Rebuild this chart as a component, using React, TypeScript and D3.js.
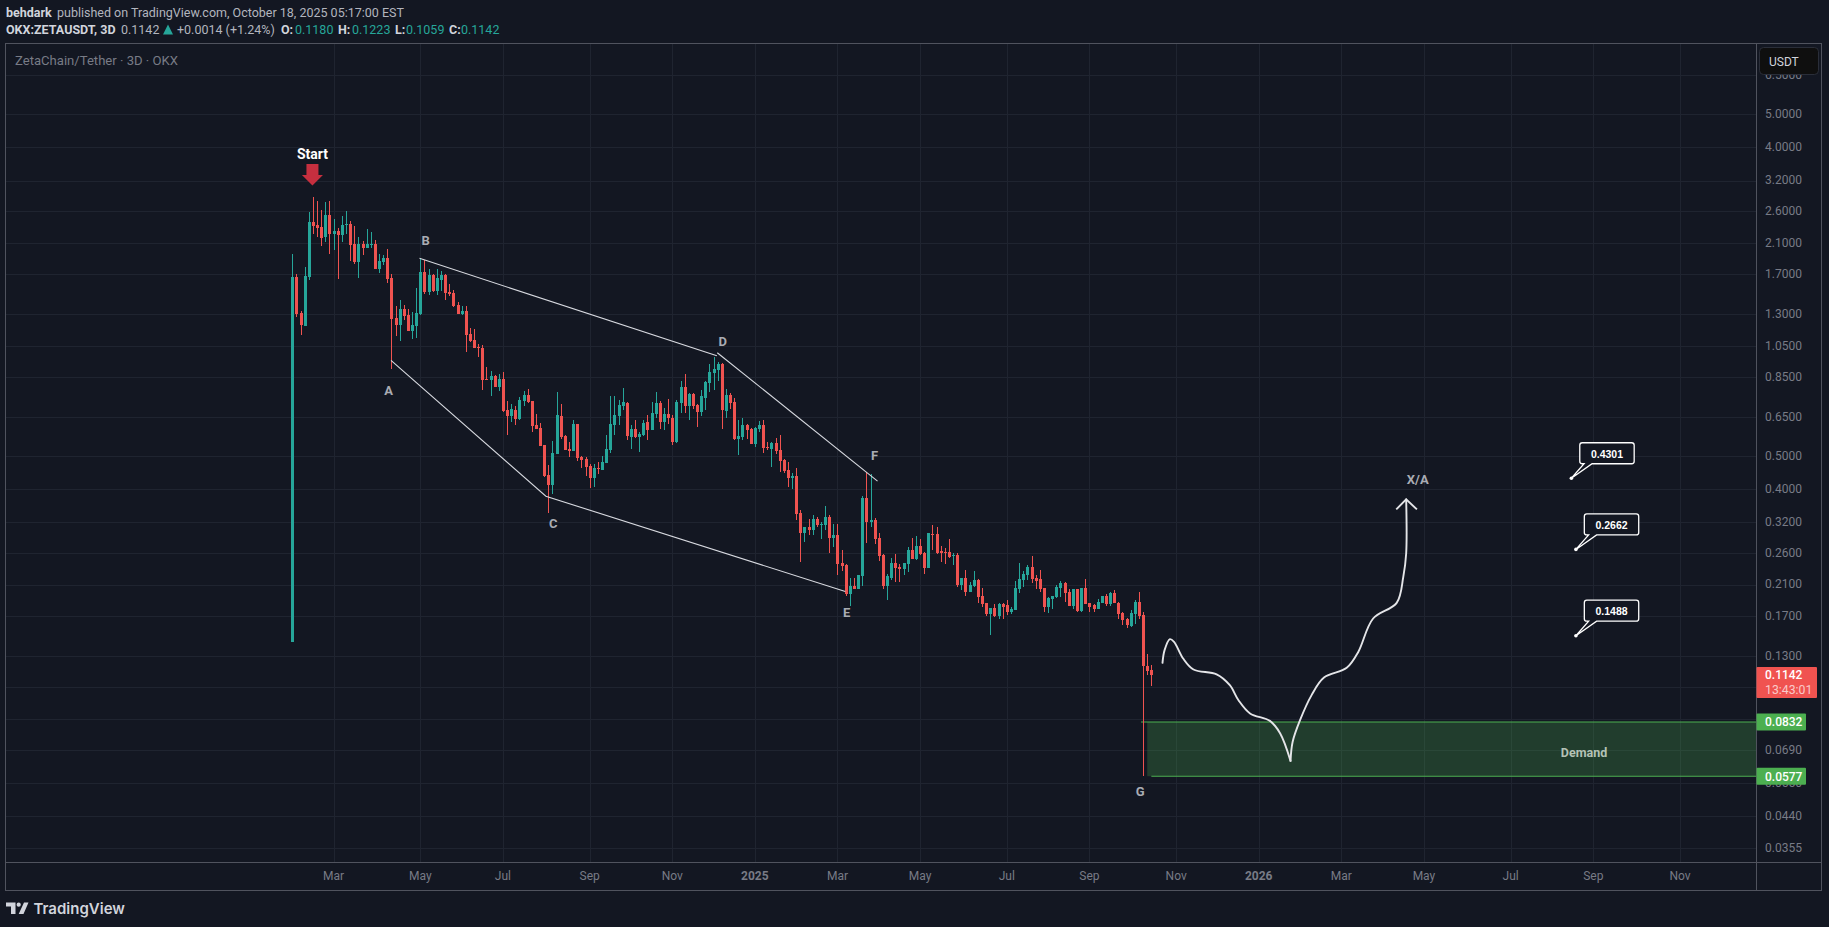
import { useEffect, useRef } from "react";
import * as d3 from "d3";

// candles, 3D bars, oldest first
const opens = [
  0.1425, 1.666, 1.31, 1.2, 1.67, 2.42, 2.37, 2.34, 2.18, 2.53,
  2.23, 2.28, 2.22, 2.37, 2.39, 2.09, 1.847, 2.09, 2.03, 2.07,
  2.09, 1.762, 1.847, 1.9, 1.66, 1.266, 1.208, 1.345, 1.292, 1.16,
  1.2, 1.3, 1.727, 1.51, 1.69, 1.52, 1.636, 1.69, 1.51, 1.5,
  1.382, 1.3, 1.327, 1.137, 1.092, 1.041, 1.034, 0.84, 0.834, 0.856,
  0.795, 0.84, 0.681, 0.654, 0.681, 0.64, 0.723, 0.753, 0.723, 0.615,
  0.603, 0.538, 0.439, 0.41, 0.506, 0.654, 0.571, 0.524, 0.516, 0.62,
  0.496, 0.489, 0.467, 0.43, 0.46, 0.454, 0.476, 0.52, 0.615, 0.654,
  0.7, 0.713, 0.567, 0.599, 0.567, 0.575, 0.628, 0.595, 0.663, 0.713,
  0.628, 0.663, 0.645, 0.548, 0.713, 0.795, 0.7, 0.758, 0.704, 0.672,
  0.738, 0.817, 0.874, 0.892, 0.929, 0.676, 0.753, 0.718, 0.56, 0.567,
  0.615, 0.599, 0.541, 0.599, 0.615, 0.53, 0.524, 0.544, 0.52, 0.486,
  0.454, 0.43, 0.436, 0.34, 0.298, 0.309, 0.303, 0.326, 0.315, 0.313,
  0.331, 0.287, 0.293, 0.243, 0.24, 0.197, 0.208, 0.204, 0.222, 0.376,
  0.32, 0.324, 0.287, 0.256, 0.208, 0.22, 0.243, 0.236, 0.233, 0.241,
  0.266, 0.249, 0.273, 0.26, 0.235, 0.296, 0.296, 0.263, 0.261, 0.261,
  0.255, 0.256, 0.21, 0.219, 0.2, 0.208, 0.216, 0.194, 0.185, 0.172,
  0.179, 0.17, 0.184, 0.183, 0.174, 0.177, 0.204, 0.216, 0.224, 0.236,
  0.219, 0.218, 0.205, 0.18, 0.19, 0.193, 0.205, 0.212, 0.2, 0.182,
  0.204, 0.176, 0.205, 0.185, 0.183, 0.178, 0.185, 0.195, 0.184, 0.198,
  0.186, 0.173, 0.166, 0.159, 0.172, 0.187, 0.171, 0.1215, 0.118,
];
const highs = [
  1.95, 1.704, 1.327, 1.783, 2.58, 2.86, 2.79, 2.62, 2.77, 2.79,
  2.47, 2.32, 2.52, 2.6, 2.44, 2.35, 2.19, 2.13, 2.31, 2.26,
  2.14, 1.95, 1.937, 2.02, 1.704, 1.373, 1.43, 1.382, 1.345, 1.318,
  1.55, 1.9, 1.872, 1.762, 1.704, 1.762, 1.738, 1.704, 1.59, 1.529,
  1.41, 1.373, 1.373, 1.184, 1.176, 1.063, 1.055, 0.91, 0.886, 0.862,
  0.868, 0.88, 0.723, 0.709, 0.7, 0.743, 0.774, 0.784, 0.723, 0.663,
  0.623, 0.538, 0.47, 0.552, 0.769, 0.709, 0.575, 0.548, 0.636, 0.62,
  0.5, 0.496, 0.473, 0.473, 0.48, 0.499, 0.575, 0.748, 0.748, 0.728,
  0.79, 0.718, 0.615, 0.636, 0.587, 0.636, 0.658, 0.718, 0.769, 0.723,
  0.69, 0.733, 0.658, 0.728, 0.828, 0.868, 0.763, 0.763, 0.71, 0.779,
  0.828, 0.929, 0.973, 0.941, 0.935, 0.784, 0.763, 0.738, 0.636, 0.645,
  0.62, 0.603, 0.607, 0.632, 0.636, 0.548, 0.548, 0.563, 0.575, 0.489,
  0.48, 0.445, 0.46, 0.347, 0.309, 0.326, 0.336, 0.331, 0.32, 0.356,
  0.335, 0.317, 0.315, 0.265, 0.241, 0.22, 0.22, 0.224, 0.381, 0.448,
  0.442, 0.328, 0.298, 0.258, 0.226, 0.252, 0.258, 0.241, 0.243, 0.27,
  0.287, 0.291, 0.285, 0.262, 0.298, 0.313, 0.309, 0.272, 0.268, 0.285,
  0.26, 0.26, 0.22, 0.2315, 0.213, 0.23, 0.218, 0.205, 0.186, 0.179,
  0.184, 0.185, 0.185, 0.189, 0.18, 0.215, 0.243, 0.23, 0.24, 0.255,
  0.224, 0.2315, 0.205, 0.193, 0.194, 0.209, 0.215, 0.213, 0.204, 0.204,
  0.204, 0.205, 0.218, 0.186, 0.184, 0.19, 0.195, 0.197, 0.2, 0.202,
  0.187, 0.174, 0.168, 0.177, 0.189, 0.2, 0.174, 0.1315, 0.1223,
];
const lows = [
  0.1425, 1.277, 1.129, 1.2, 1.636, 2.23, 2.18, 2.06, 2.11, 1.95,
  2.0, 1.647, 2.11, 2.23, 1.86, 1.82, 1.66, 1.937, 2.03, 2.03,
  1.762, 1.715, 1.81, 1.6, 0.897, 1.121, 1.084, 1.249, 1.16, 1.1,
  1.107, 1.292, 1.488, 1.478, 1.51, 1.478, 1.52, 1.43, 1.468, 1.364,
  1.3, 1.292, 1.007, 1.077, 1.034, 0.973, 0.779, 0.834, 0.748, 0.795,
  0.774, 0.672, 0.575, 0.628, 0.615, 0.636, 0.7, 0.713, 0.587, 0.599,
  0.534, 0.433, 0.34, 0.386, 0.506, 0.56, 0.52, 0.496, 0.516, 0.483,
  0.46, 0.436, 0.403, 0.405, 0.442, 0.454, 0.476, 0.51, 0.575, 0.615,
  0.681, 0.556, 0.524, 0.563, 0.513, 0.571, 0.556, 0.595, 0.645, 0.599,
  0.595, 0.62, 0.538, 0.544, 0.667, 0.667, 0.636, 0.685, 0.607, 0.654,
  0.681, 0.769, 0.779, 0.828, 0.599, 0.645, 0.685, 0.556, 0.503, 0.556,
  0.56, 0.541, 0.53, 0.587, 0.51, 0.52, 0.463, 0.506, 0.448, 0.445,
  0.405, 0.4, 0.324, 0.244, 0.279, 0.293, 0.293, 0.309, 0.285, 0.303,
  0.26, 0.27, 0.224, 0.23, 0.194, 0.182, 0.204, 0.204, 0.208, 0.278,
  0.309, 0.276, 0.246, 0.204, 0.189, 0.216, 0.213, 0.214, 0.224, 0.228,
  0.249, 0.248, 0.256, 0.225, 0.235, 0.265, 0.258, 0.244, 0.241, 0.251,
  0.24, 0.206, 0.202, 0.195, 0.2, 0.206, 0.186, 0.181, 0.17, 0.15,
  0.169, 0.166, 0.166, 0.171, 0.172, 0.177, 0.198, 0.206, 0.216, 0.212,
  0.204, 0.2, 0.174, 0.173, 0.178, 0.192, 0.193, 0.187, 0.182, 0.178,
  0.174, 0.174, 0.184, 0.175, 0.174, 0.178, 0.185, 0.182, 0.182, 0.185,
  0.167, 0.16, 0.157, 0.158, 0.161, 0.166, 0.0577, 0.1145, 0.1059,
];
const closes = [
  1.666, 1.3, 1.208, 1.68, 2.42, 2.355, 2.32, 2.17, 2.53, 2.23,
  2.28, 2.22, 2.37, 2.39, 2.07, 1.847, 2.09, 2.03, 2.09, 2.09,
  1.762, 1.86, 1.9, 1.647, 1.257, 1.208, 1.345, 1.284, 1.16, 1.208,
  1.31, 1.727, 1.51, 1.69, 1.52, 1.66, 1.69, 1.5, 1.488, 1.373,
  1.3, 1.327, 1.129, 1.084, 1.034, 1.034, 0.834, 0.834, 0.856, 0.795,
  0.84, 0.676, 0.654, 0.685, 0.64, 0.728, 0.753, 0.718, 0.611, 0.599,
  0.534, 0.436, 0.41, 0.51, 0.658, 0.567, 0.52, 0.516, 0.62, 0.492,
  0.486, 0.463, 0.43, 0.46, 0.457, 0.48, 0.524, 0.62, 0.658, 0.704,
  0.718, 0.571, 0.599, 0.567, 0.579, 0.623, 0.595, 0.667, 0.713, 0.628,
  0.663, 0.645, 0.548, 0.718, 0.795, 0.7, 0.758, 0.7, 0.672, 0.748,
  0.822, 0.88, 0.898, 0.929, 0.681, 0.753, 0.713, 0.56, 0.571, 0.615,
  0.595, 0.541, 0.603, 0.615, 0.527, 0.527, 0.544, 0.516, 0.483, 0.451,
  0.43, 0.436, 0.338, 0.298, 0.309, 0.303, 0.326, 0.313, 0.317, 0.331,
  0.287, 0.293, 0.241, 0.238, 0.197, 0.208, 0.204, 0.224, 0.376, 0.32,
  0.324, 0.285, 0.255, 0.208, 0.222, 0.243, 0.235, 0.233, 0.243, 0.266,
  0.249, 0.273, 0.258, 0.235, 0.298, 0.295, 0.26, 0.26, 0.26, 0.253,
  0.256, 0.21, 0.219, 0.2, 0.209, 0.216, 0.193, 0.184, 0.172, 0.179,
  0.17, 0.184, 0.181, 0.174, 0.178, 0.205, 0.218, 0.225, 0.236, 0.218,
  0.215, 0.204, 0.18, 0.192, 0.194, 0.206, 0.212, 0.198, 0.182, 0.204,
  0.176, 0.205, 0.184, 0.181, 0.178, 0.187, 0.195, 0.184, 0.198, 0.185,
  0.172, 0.165, 0.16, 0.173, 0.187, 0.17, 0.1215, 0.117, 0.1142,
];

const priceTicks = [
  6.5, 5, 4, 3.2, 2.6, 2.1, 1.7, 1.3, 1.05, 0.85, 0.65, 0.5, 0.4, 0.32, 0.26,
  0.21, 0.17, 0.13, 0.105, 0.085, 0.069, 0.055, 0.044, 0.0355,
];
const hiddenPriceTick = 0.105; // sits fully behind the last price tag
const monthLabels = ["Mar", "May", "Jul", "Sep", "Nov", "2025", "Mar", "May", "Jul", "Sep", "Nov", "2026", "Mar", "May", "Jul", "Sep", "Nov"];
const monthBars = [10, 31, 51, 72, 92, 112, 132, 152, 173, 193, 214, 234, 254, 274, 295, 315, 336];

// drawn annotations, as [bar, price]
const lowerChannel: [number, number][] = [[23.9, 0.952], [61.4, 0.381], [133.9, 0.2005]];
const upperChannel: [number, number][] = [[30.8, 1.894], [102.8, 0.982]];
const wedgeTop: [number, number][] = [[102.9, 1.002], [141.7, 0.422]];
const wavePathDown: [number, number][] = [
  [210.7, 0.1239], [211.2, 0.135], [212.5, 0.1454], [213.5, 0.1427], [215.7, 0.1276],
  [218.2, 0.1185], [223.8, 0.1147], [227, 0.1066], [229.1, 0.0963], [231.9, 0.0881],
  [236.7, 0.0838], [239.2, 0.077], [241.7, 0.064],
];
const wavePathUp: [number, number][] = [
  [241.7, 0.064], [242.2, 0.0727], [244, 0.0842], [246.8, 0.0997], [249.8, 0.1122],
  [255.3, 0.1198], [258.1, 0.1334], [261.7, 0.1671], [267.4, 0.1857], [269, 0.2213],
  [269.7, 0.259], [269.7, 0.3729],
];
const arrowHead: [number, number][] = [[267.3, 0.3486], [269.7, 0.3729], [272.3, 0.3486]];
const waveLabels: { t: string; bar: number; price: number }[] = [
  { t: "A", bar: 23.3, price: 0.779 },
  { t: "B", bar: 32.3, price: 2.13 },
  { t: "C", bar: 63.2, price: 0.316 },
  { t: "D", bar: 104.2, price: 1.084 },
  { t: "E", bar: 134.2, price: 0.1744 },
  { t: "F", bar: 141, price: 0.5003 },
  { t: "G", bar: 205.3, price: 0.0519 },
  { t: "X/A", bar: 272.5, price: 0.4276 },
];
const targetPrices = [0.4301, 0.2662, 0.1488];
const targetBars = [309.7, 310.8, 310.8];
const demandTop = 0.0832;
const demandBottom = 0.0577;
const lastPrice = 0.1142;

const BG = "#131722";
const GRID = "#1f2430";
const FRAME = "#50535e";
const UP = "#26a69a";
const DOWN = "#ef5350";
const GREEN = "#4caf50";
const MUTED = "#787b86";
const FONT = "Roboto, sans-serif";

const L = 6, R = 1822, T = 43.5, AX = 1756, AY = 862, B = 890;

const App = () => {
  const ref = useRef<SVGSVGElement>(null);

  useEffect(() => {
    document.body.style.margin = "0";
    document.body.style.background = BG;
    const svg = d3.select(ref.current);
    svg.selectAll("*").remove();

    const x = d3.scaleLinear().domain([0, 336]).range([292.3, 1680]);
    const y = d3.scaleLog().domain([0.0355, 5]).range([848.3, 114.3]);

    svg.append("rect").attr("width", 1829).attr("height", 927).attr("fill", BG);

    /* grid */
    const grid = svg.append("g").attr("stroke", GRID).attr("shape-rendering", "crispEdges");
    grid.selectAll(".h").data(priceTicks).enter().append("line")
      .attr("x1", L).attr("x2", AX)
      .attr("y1", (d) => Math.round(y(d)) + 0.5).attr("y2", (d) => Math.round(y(d)) + 0.5);
    grid.selectAll(".v").data(monthBars).enter().append("line")
      .attr("y1", T).attr("y2", AY)
      .attr("x1", (d) => Math.round(x(d)) + 0.5).attr("x2", (d) => Math.round(x(d)) + 0.5);

    /* demand zone */
    svg.append("rect")
      .attr("x", x(207)).attr("width", AX - x(207))
      .attr("y", y(demandTop)).attr("height", y(demandBottom) - y(demandTop))
      .attr("fill", GREEN).attr("fill-opacity", 0.25);
    svg.append("line").attr("x1", x(205.5)).attr("x2", AX)
      .attr("y1", y(demandTop)).attr("y2", y(demandTop))
      .attr("stroke", GREEN).attr("stroke-width", 1.1);
    svg.append("line").attr("x1", x(208)).attr("x2", AX)
      .attr("y1", y(demandBottom)).attr("y2", y(demandBottom))
      .attr("stroke", GREEN).attr("stroke-width", 1.1);

    /* candles */
    const candles = svg.append("g").attr("shape-rendering", "crispEdges");
    const bars = d3.range(opens.length);
    const color = (i: number) => (closes[i] >= opens[i] ? UP : DOWN);
    candles.selectAll(".wick").data(bars).enter().append("rect")
      .attr("x", (i) => Math.round(x(i)))
      .attr("width", 1)
      .attr("y", (i) => y(highs[i]))
      .attr("height", (i) => y(lows[i]) - y(highs[i]))
      .attr("fill", color);
    candles.selectAll(".body").data(bars).enter().append("rect")
      .attr("x", (i) => Math.round(x(i)) - 1)
      .attr("width", 3)
      .attr("y", (i) => y(Math.max(opens[i], closes[i])))
      .attr("height", (i) => Math.max(1, Math.abs(y(opens[i]) - y(closes[i]))))
      .attr("fill", color);

    /* channel lines */
    const line = d3.line<[number, number]>().x((d) => x(d[0])).y((d) => y(d[1]));
    [lowerChannel, upperChannel, wedgeTop].forEach((pts) => {
      svg.append("path").attr("d", line(pts))
        .attr("fill", "none").attr("stroke", "#d8dae0").attr("stroke-width", 1.1);
    });

    /* wave projection */
    const smooth = d3.line<[number, number]>().x((d) => x(d[0])).y((d) => y(d[1])).curve(d3.curveCatmullRom.alpha(0.5));
    [wavePathDown, wavePathUp].forEach((pts) => {
      svg.append("path").attr("d", smooth(pts))
        .attr("fill", "none").attr("stroke", "#e4e5e8").attr("stroke-width", 1.9).attr("stroke-linecap", "round");
    });
    svg.append("path").attr("d", line(arrowHead))
      .attr("fill", "none").attr("stroke", "#e4e5e8").attr("stroke-width", 1.9);

    /* wave letters */
    svg.selectAll(".wave").data(waveLabels).enter().append("text")
      .attr("x", (d) => x(d.bar)).attr("y", (d) => y(d.price))
      .attr("text-anchor", "middle").attr("dominant-baseline", "central")
      .attr("font-family", FONT).attr("font-size", 13).attr("font-weight", 700)
      .attr("fill", "#a9acb3").text((d) => d.t);

    /* start marker */
    const sx = x(5) - 0.5;
    svg.append("text").attr("x", sx).attr("y", 153.5).attr("text-anchor", "middle")
      .attr("dominant-baseline", "central").attr("font-family", FONT)
      .attr("font-size", 14).attr("font-weight", 700).attr("fill", "#ffffff").text("Start");
    svg.append("path")
      .attr("d", `M${sx - 6},164 h12 v11 h4.5 L${sx},185.5 L${sx - 10.5},175 h4.5 Z`)
      .attr("fill", "#c62f3f");

    svg.append("text").attr("x", 1584).attr("y", 752).attr("text-anchor", "middle")
      .attr("dominant-baseline", "central").attr("font-family", FONT)
      .attr("font-size", 12.5).attr("font-weight", 700).attr("fill", "#b4c2b5").text("Demand");

    /* target callouts */
    targetPrices.forEach((p, i) => {
      const ax = x(targetBars[i]), ay = y(p);
      const bx = ax + 8.4, by = ay - 35.5, w = 54.4, h = 21, r = 2.5;
      const d = `M${ax + 20.7},${by + h} H${bx + w - r} Q${bx + w},${by + h} ${bx + w},${by + h - r} V${by + r} Q${bx + w},${by} ${bx + w - r},${by} H${bx + r} Q${bx},${by} ${bx},${by + r} V${by + h - r} Q${bx},${by + h} ${bx + r},${by + h} H${ax + 12.7} L${ax},${ay} Z`;
      svg.append("path").attr("d", d).attr("fill", BG).attr("stroke", "#ffffff").attr("stroke-width", 1.3);
      svg.append("circle").attr("cx", ax).attr("cy", ay).attr("r", 1.8).attr("fill", "#ffffff");
      svg.append("text").attr("x", bx + w / 2).attr("y", by + h / 2 + 0.5)
        .attr("text-anchor", "middle").attr("dominant-baseline", "central")
        .attr("font-family", "Liberation Sans, Arial, sans-serif").attr("font-size", 10.5)
        .attr("font-weight", 700).attr("fill", "#ffffff").text(d3.format(".4f")(p));
    });

    /* axes */
    const priceAxis = svg.append("g").attr("transform", `translate(${AX},0)`)
      .call(d3.axisRight(y).tickValues(priceTicks)
        .tickFormat((d) => (d === hiddenPriceTick ? "" : d3.format(".4f")(d as number)))
        .tickSize(0).tickPadding(9).offset(0));
    priceAxis.select(".domain").remove();
    priceAxis.attr("font-family", FONT).attr("font-size", 12);
    priceAxis.selectAll("text").attr("fill", MUTED);

    const timeAxis = svg.append("g").attr("transform", `translate(0,${AY})`)
      .call(d3.axisBottom(x).tickValues(monthBars).tickFormat((_, i) => monthLabels[i]).tickSize(0).tickPadding(9.5).offset(0));
    timeAxis.select(".domain").remove();
    timeAxis.attr("font-family", FONT).attr("font-size", 12);
    timeAxis.selectAll("text").attr("fill", MUTED)
      .attr("font-weight", (_, i) => (monthLabels[i].startsWith("20") ? 700 : 400));

    /* frame */
    const frame = svg.append("g").attr("stroke", FRAME).attr("fill", "none").attr("shape-rendering", "crispEdges");
    frame.append("rect").attr("x", L - 0.5).attr("y", T).attr("width", R - L).attr("height", B - T);
    frame.append("line").attr("x1", L).attr("x2", R).attr("y1", AY).attr("y2", AY);
    frame.append("line").attr("x1", AX).attr("x2", AX).attr("y1", T).attr("y2", B);

    /* currency box */
    svg.append("rect").attr("x", 1759.5).attr("y", 47.5).attr("width", 59).attr("height", 27).attr("rx", 4)
      .attr("fill", "#0f0f0f").attr("stroke", "#2a2e39");
    svg.append("text").attr("x", 1769).attr("y", 61.5).attr("dominant-baseline", "central")
      .attr("font-family", FONT).attr("font-size", 12).attr("fill", "#d1d4dc").text("USDT");

    /* price tags */
    svg.append("rect").attr("x", AX + 0.5).attr("y", 667).attr("width", 60.5).attr("height", 31).attr("rx", 1).attr("fill", "#f05350");
    svg.append("text").attr("x", 1765).attr("y", y(lastPrice) + 0.5).attr("dominant-baseline", "central")
      .attr("font-family", FONT).attr("font-size", 12).attr("font-weight", 500).attr("fill", "#ffffff").text(d3.format(".4f")(lastPrice));
    svg.append("text").attr("x", 1765).attr("y", 690).attr("dominant-baseline", "central")
      .attr("font-family", FONT).attr("font-size", 12.3).attr("fill", "#ffffff").attr("fill-opacity", 0.7).text("13:43:01");
    [demandTop, demandBottom].forEach((p) => {
      svg.append("rect").attr("x", AX + 0.5).attr("y", y(p) - 8.5).attr("width", 49.5).attr("height", 17).attr("rx", 1).attr("fill", GREEN);
      svg.append("text").attr("x", 1765).attr("y", y(p) + 0.5).attr("dominant-baseline", "central")
        .attr("font-family", FONT).attr("font-size", 12).attr("font-weight", 500).attr("fill", "#ffffff").text(d3.format(".4f")(p));
    });

    /* header */
    const header = (t: string, px: number, py: number, fill: string, weight = 400, size = 12.5) =>
      svg.append("text").attr("x", px).attr("y", py).attr("dominant-baseline", "central")
        .attr("font-family", FONT).attr("font-size", size).attr("font-weight", weight).attr("fill", fill).text(t);
    header("behdark", 6, 12.5, "#d1d4dc", 700);
    header("published on TradingView.com, October 18, 2025 05:17:00 EST", 57, 12.5, "#b2b5be");
    header("OKX:ZETAUSDT, 3D", 6, 29.5, "#d1d4dc", 700);
    header("0.1142", 121, 29.5, "#b2b5be");
    svg.append("path").attr("d", "M163,34.5 L168,24.5 L173,34.5 Z").attr("fill", UP);
    header("+0.0014 (+1.24%)", 177, 29.5, "#b2b5be");
    header("O:", 281, 29.5, "#d1d4dc", 700);
    header("0.1180", 295, 29.5, UP);
    header("H:", 338, 29.5, "#d1d4dc", 700);
    header("0.1223", 352, 29.5, UP);
    header("L:", 395, 29.5, "#d1d4dc", 700);
    header("0.1059", 406, 29.5, UP);
    header("C:", 449, 29.5, "#d1d4dc", 700);
    header("0.1142", 461, 29.5, UP);
    header("ZetaChain/Tether · 3D · OKX", 15, 60.5, MUTED, 400, 13.1);

    /* logo */
    svg.append("path").attr("d", "M6,902.5 h9.5 v11.5 h-4.5 v-7.5 h-5 Z M24,902.5 h4.5 l-5,11.5 h-4.8 Z").attr("fill", "#d1d4dc");
    svg.append("circle").attr("cx", 18.7).attr("cy", 904.7).attr("r", 2.1).attr("fill", "#d1d4dc");
    svg.append("text").attr("x", 33.5).attr("y", 908).attr("dominant-baseline", "central")
      .attr("font-family", "Inter, sans-serif").attr("font-size", 15).attr("font-weight", 600)
      .attr("fill", "#d1d4dc").text("TradingView");
  }, []);

  return <svg ref={ref} width={1829} height={927} style={{ position: "absolute", left: 0, top: 0, display: "block" }} />;
};

export default App;
